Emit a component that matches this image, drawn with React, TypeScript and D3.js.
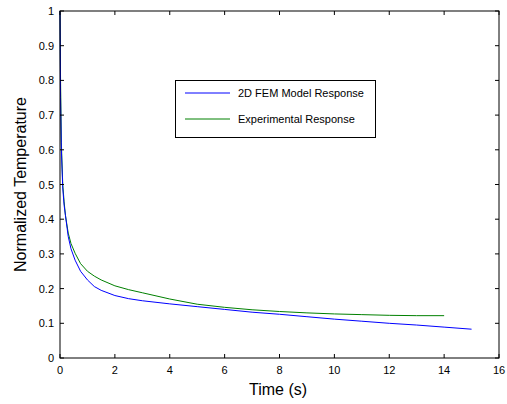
import React from "react";
import * as d3 from "d3";

const xTicks = [0, 2, 4, 6, 8, 10, 12, 14, 16];
const yTicks = [0, 0.1, 0.2, 0.3, 0.4, 0.5, 0.6, 0.7, 0.8, 0.9, 1];

const femTime = [0, 0.02, 0.05, 0.1, 0.15, 0.2, 0.3, 0.4, 0.55, 0.75, 1.0, 1.25, 1.5, 2, 2.5, 3, 4, 5, 6, 7, 8, 9, 10, 11, 12, 13, 14, 15];
const femValues = [1.0, 0.75, 0.6, 0.49, 0.44, 0.41, 0.35, 0.315, 0.282, 0.25, 0.225, 0.206, 0.195, 0.18, 0.171, 0.165, 0.156, 0.148, 0.14, 0.132, 0.126, 0.119, 0.112, 0.106, 0.1, 0.095, 0.089, 0.083];

const expTime = [0, 0.02, 0.05, 0.1, 0.15, 0.2, 0.3, 0.4, 0.55, 0.75, 1.0, 1.25, 1.5, 2, 2.5, 3, 4, 5, 6, 7, 8, 9, 10, 11, 12, 13, 14];
const expValues = [1.0, 0.8, 0.62, 0.5, 0.45, 0.41, 0.36, 0.33, 0.302, 0.272, 0.25, 0.236, 0.225, 0.208, 0.197, 0.188, 0.17, 0.155, 0.146, 0.139, 0.134, 0.13, 0.127, 0.125, 0.123, 0.122, 0.122];

const seriesNames = ["2D FEM Model Response", "Experimental Response"];
const seriesColors = ["#0000ff", "#008000"];

export default function App() {
  const W = 507, H = 404;
  const L = 60, R = 499, T = 11, B = 358;
  const x = d3.scaleLinear().domain([0, 16]).range([L, R]);
  const y = d3.scaleLinear().domain([0, 1]).range([B, T]);
  const line = d3.line<[number, number]>().x(d => x(d[0])).y(d => y(d[1]));
  const fem = femTime.map((t, i) => [t, femValues[i]] as [number, number]);
  const exp = expTime.map((t, i) => [t, expValues[i]] as [number, number]);
  const font = "Arial, 'Liberation Sans', sans-serif";
  const tl = 4;
  return (
    <div style={{ position: "absolute", left: 0, top: 0 }}>
      <svg width={W} height={H} style={{ display: "block", background: "#fff" }} fontFamily={font}>
        <rect x={0} y={0} width={W} height={H} fill="#fff" />
        <path d={line(exp) || ""} fill="none" stroke={seriesColors[1]} strokeWidth={1} />
        <path d={line(fem) || ""} fill="none" stroke={seriesColors[0]} strokeWidth={1} />
        <rect x={L} y={T} width={R - L} height={B - T} fill="none" stroke="#000" strokeWidth={1} />
        {xTicks.map(t => (
          <g key={"x" + t}>
            <line x1={x(t)} x2={x(t)} y1={B} y2={B - tl} stroke="#000" />
            <line x1={x(t)} x2={x(t)} y1={T} y2={T + tl} stroke="#000" />
            <text x={x(t)} y={B + 16} fontSize={11} textAnchor="middle" fill="#000">{t}</text>
          </g>
        ))}
        {yTicks.map(t => (
          <g key={"y" + t}>
            <line x1={L} x2={L + tl} y1={y(t)} y2={y(t)} stroke="#000" />
            <line x1={R} x2={R - tl} y1={y(t)} y2={y(t)} stroke="#000" />
            <text x={L - 6} y={y(t) + 4} fontSize={11} textAnchor="end" fill="#000">{String(t)}</text>
          </g>
        ))}
        <text x={278} y={395} fontSize={16} textAnchor="middle" fill="#000">Time (s)</text>
        <text transform={`translate(26,${(T + B) / 2}) rotate(-90)`} fontSize={16} textAnchor="middle" fill="#000">Normalized Temperature</text>
        <rect x={175.5} y={80.5} width={200} height={57} fill="#fff" stroke="#000" strokeWidth={1} />
        {seriesNames.map((n, i) => (
          <g key={n}>
            <line x1={185} x2={230} y1={93 + i * 26} y2={93 + i * 26} stroke={seriesColors[i]} strokeWidth={1} />
            <text x={238} y={97 + i * 26} fontSize={11} fill="#000">{n}</text>
          </g>
        ))}
      </svg>
    </div>
  );
}
